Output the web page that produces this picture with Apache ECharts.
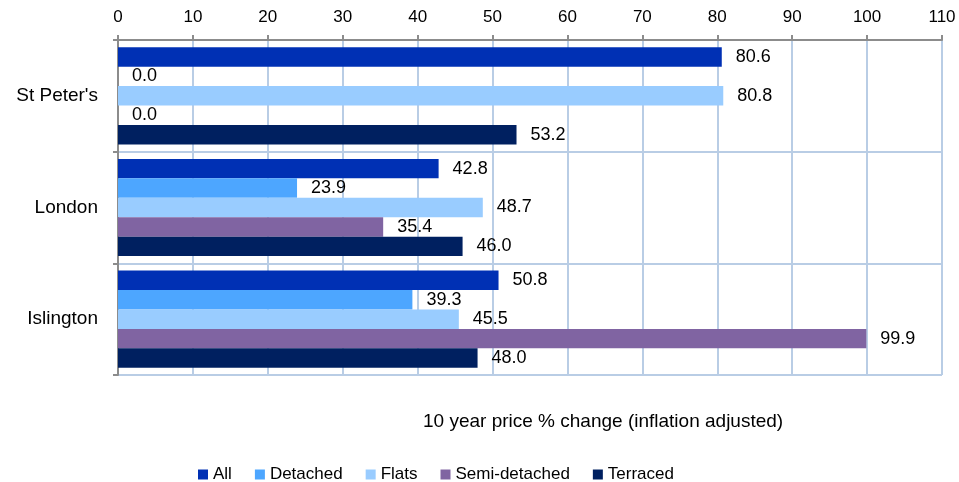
<!DOCTYPE html>
<html>
<head>
<meta charset="utf-8">
<script src="https://cdn.jsdelivr.net/npm/echarts@6/dist/echarts.min.js"></script>
<style>
  html, body { margin: 0; padding: 0; background: #fff; }
  #chart { width: 959px; height: 482px; }
</style>
</head>
<body>
<div id="chart"></div>
<script>
// Areas shown top to bottom
var areas = ["St Peter's", "London", "Islington"];

// 10 year price % change (inflation adjusted), by property type
var allTypes     = [80.6, 42.8, 50.8];
var detached     = [0.0, 23.9, 39.3];
var flats        = [80.8, 48.7, 45.5];
var semiDetached = [0.0, 35.4, 99.9];
var terraced     = [53.2, 46.0, 48.0];

var seriesNames  = ["All", "Detached", "Flats", "Semi-detached", "Terraced"];
var seriesValues = [allTypes, detached, flats, semiDetached, terraced];
var seriesColors = ["#0030b4", "#4da6ff", "#99ccff", "#8064a2", "#002060"];

var axisTitle = "10 year price % change (inflation adjusted)";

var FONT = "'Liberation Sans', Arial, sans-serif";
var AXIS_GREY = "#8c8c8c";
var GRID_BLUE = "#b9cde5";

var chart = echarts.init(document.getElementById('chart'));

var series = seriesNames.map(function (name, i) {
  return {
    name: name,
    type: 'bar',
    data: seriesValues[i],
    barGap: '0%',
    barCategoryGap: '13%',
    itemStyle: { color: seriesColors[i] },
    label: {
      show: true,
      position: 'right',
      distance: 14,
      color: '#000',
      fontFamily: FONT,
      fontSize: 18,
      formatter: function (p) { return p.value.toFixed(1); }
    }
  };
});

chart.setOption({
  backgroundColor: '#fff',
  animation: false,
  title: {
    text: axisTitle,
    left: 423,
    top: 412,
    padding: 0,
    textStyle: { fontFamily: FONT, fontSize: 19, fontWeight: 'normal', color: '#000' }
  },
  legend: {
    data: seriesNames,
    left: 198,
    top: 466,
    padding: 0,
    itemGap: 23,
    itemWidth: 10,
    itemHeight: 10,
    icon: 'rect',
    textStyle: { fontFamily: FONT, fontSize: 17, color: '#000' }
  },
  grid: { left: 118, right: 17, top: 40, bottom: 107 },
  xAxis: {
    type: 'value',
    position: 'top',
    min: 0,
    max: 110,
    interval: 10,
    axisLine: { show: true, lineStyle: { color: AXIS_GREY, width: 2 } },
    axisTick: { show: true, length: 5, lineStyle: { color: AXIS_GREY, width: 2 } },
    axisLabel: { margin: 14, color: '#000', fontFamily: FONT, fontSize: 17 },
    splitLine: { show: true, lineStyle: { color: GRID_BLUE, width: 2 } }
  },
  yAxis: {
    type: 'category',
    data: areas,
    inverse: true,
    axisLine: { show: true, lineStyle: { color: AXIS_GREY, width: 2 } },
    axisTick: { show: true, length: 5, lineStyle: { color: AXIS_GREY, width: 2 } },
    axisLabel: { margin: 20, color: '#000', fontFamily: FONT, fontSize: 19 },
    splitLine: { show: true, lineStyle: { color: GRID_BLUE, width: 2 } }
  },
  series: series
});
</script>
</body>
</html>
